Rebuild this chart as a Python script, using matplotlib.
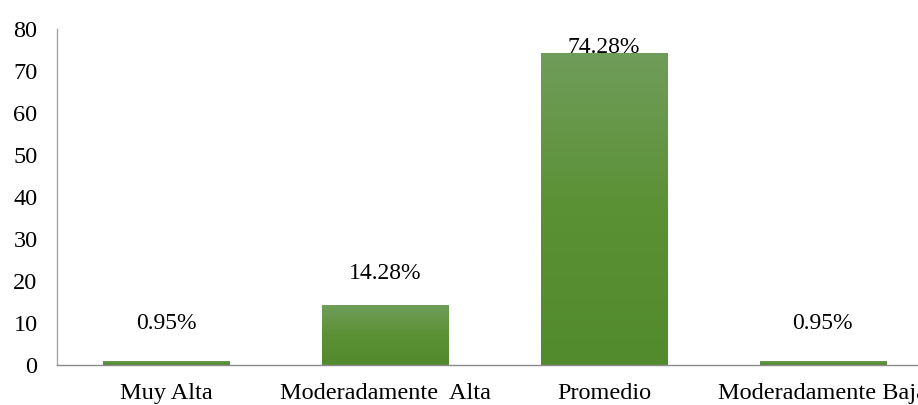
import matplotlib
matplotlib.use("Agg")
import matplotlib.pyplot as plt
import numpy as np
from matplotlib.colors import LinearSegmentedColormap

categories = ["Muy Alta", "Moderadamente  Alta", "Promedio", "Moderadamente Baja"]
values = [0.95, 14.28, 74.28, 0.95]
value_labels = ["0.95%", "14.28%", "74.28%", "0.95%"]
label_offsets = [9.0, 7.4, 1.4, 9.0]
yticks = [0, 10, 20, 30, 40, 50, 60, 70, 80]

plt.rcParams["font.family"] = ["Liberation Serif", "DejaVu Serif"]

fig = plt.figure(figsize=(9.18, 4.05), dpi=100)
ax = fig.add_axes([57 / 918, 40 / 405, 875 / 918, 336 / 405])

x = np.arange(len(categories))
bars = ax.bar(x, values, width=0.577, color="none", edgecolor="none", zorder=2)

cmap = LinearSegmentedColormap.from_list(
    "g", ["#528A2E", "#5B9135", "#6F9D5A"])
grad = np.linspace(0, 1, 256).reshape(-1, 1)
for b in bars:
    bx, by = b.get_x(), b.get_y()
    bw, bh = b.get_width(), b.get_height()
    im = ax.imshow(grad, cmap=cmap, origin="lower", aspect="auto",
                   extent=[bx, bx + bw, by, by + bh], zorder=2)
    im.set_clip_path(b)

for xi, v, lab, off in zip(x, values, value_labels, label_offsets):
    ax.text(xi, v + off, lab, ha="center", va="center", fontsize=17,
            color="#000000", zorder=3)

ax.set_xlim(-0.5, len(categories) - 0.5)
ax.set_ylim(0, 80)
ax.set_yticks(yticks)
ax.set_yticklabels([str(t) for t in yticks])
ax.set_xticks(x)
ax.set_xticklabels(categories)
ax.tick_params(axis="both", length=0, labelsize=17.5, colors="#000000")
ax.tick_params(axis="y", pad=14)
ax.tick_params(axis="x", pad=13)

for s in ["top", "right"]:
    ax.spines[s].set_visible(False)
ax.spines["left"].set_color("#A6A6A6")
ax.spines["bottom"].set_color("#8C8C8C")
ax.spines["left"].set_linewidth(1.0)
ax.spines["bottom"].set_linewidth(1.0)

fig.savefig("out.png", dpi=100)
